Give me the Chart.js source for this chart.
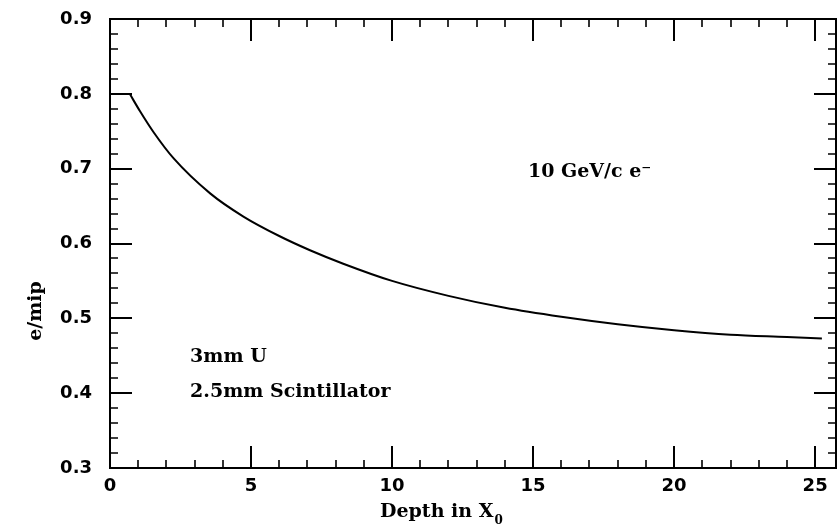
<!DOCTYPE html>
<html>
<head>
<meta charset="utf-8">
<script src="https://cdn.jsdelivr.net/npm/chart.js@4"></script>
<style>
  html, body { margin: 0; padding: 0; background: #fff; }
  #wrap { width: 837px; height: 527px; }
</style>
</head>
<body>
<div id="wrap"><canvas id="myChart" width="837" height="527"></canvas></div>
<script>
// curva: profundidad (X0) y e/mip
const profundidad = [0.7, 1.06, 1.54, 2.25, 3.55, 4.73, 6.0, 7.09, 8.27, 10, 12, 14, 16, 18, 20, 22, 24, 25.24]
const eMip = [0.800, 0.777, 0.749, 0.714, 0.667, 0.636, 0.610, 0.591, 0.573, 0.550, 0.530, 0.514, 0.502, 0.492, 0.484, 0.478, 0.475, 0.473]

// ticks de los ejes
const ticksX = [0, 5, 10, 15, 20, 25]
const ticksY = [0.3, 0.4, 0.5, 0.6, 0.7, 0.8, 0.9]

// textos dentro del grafico (x, y en unidades de datos)
const notas = [
  { texto: "10 GeV/c e\u207B", x: 14.82, y: 0.689 },
  { texto: "3mm U", x: 2.84, y: 0.441 },
  { texto: "2.5mm Scintillator", x: 2.84, y: 0.395 }
]

const tituloX = "Depth in X"
const subX = "0"
const tituloY = "e/mip"

const fuenteTicks = { family: "DejaVu Sans", size: 18, weight: "bold" }
const fuenteTexto = "bold 19px 'DejaVu Serif'"

// dibuja el marco, los ticks hacia adentro, las notas y los titulos
const marcoPlugin = {
  id: "marco",
  afterDraw(chart) {
    const ctx = chart.ctx
    const { left, right, top, bottom } = chart.chartArea
    const sx = chart.scales.x
    const sy = chart.scales.y
    ctx.save()
    ctx.strokeStyle = "#000"
    ctx.lineWidth = 2
    ctx.strokeRect(left, top, right - left, bottom - top)

    // ticks eje x (abajo y arriba)
    for (let v = 0; v <= sx.max; v += 1) {
      const px = Math.round(sx.getPixelForValue(v))
      const largo = v % 5 === 0 ? 22 : 8
      ctx.lineWidth = v % 5 === 0 ? 2 : 1.6
      ctx.beginPath()
      ctx.moveTo(px, bottom); ctx.lineTo(px, bottom - largo)
      ctx.moveTo(px, top); ctx.lineTo(px, top + largo)
      ctx.stroke()
    }
    // ticks eje y (izquierda y derecha)
    for (let i = 0; i <= 30; i++) {
      const v = 0.3 + i * 0.02
      const py = Math.round(sy.getPixelForValue(v))
      const mayor = i % 5 === 0
      const largo = mayor ? 22 : 8
      ctx.lineWidth = mayor ? 2 : 1.6
      ctx.beginPath()
      ctx.moveTo(left, py); ctx.lineTo(left + largo, py)
      ctx.moveTo(right, py); ctx.lineTo(right - largo, py)
      ctx.stroke()
    }

    ctx.fillStyle = "#000"
    ctx.font = fuenteTexto
    ctx.textBaseline = "alphabetic"
    ctx.textAlign = "left"
    notas.forEach(n => {
      ctx.fillText(n.texto, sx.getPixelForValue(n.x), sy.getPixelForValue(n.y))
    })

    // titulo eje x con subindice
    ctx.font = fuenteTexto
    ctx.fillText(tituloX, 380, 517)
    const w = ctx.measureText(tituloX).width
    ctx.font = "bold 12px 'DejaVu Serif'"
    ctx.fillText(subX, 380 + w + 1, 524)

    // titulo eje y
    ctx.translate(41, 311)
    ctx.rotate(-Math.PI / 2)
    ctx.font = "bold 19px 'DejaVu Serif'"
    ctx.textAlign = "center"
    ctx.fillText(tituloY, 0, 0)
    ctx.restore()
  }
}

function crearDatos() {
  const data = profundidad.map((x, i) => ({ x, y: eMip[i] }))
  return {
    datasets: [{
      data,
      borderColor: "#000",
      borderWidth: 2,
      pointRadius: 0,
      cubicInterpolationMode: "monotone",
      fill: false
    }]
  }
}

const config = {
  type: "line",
  data: crearDatos(),
  plugins: [marcoPlugin],
  options: {
    responsive: false,
    animation: false,
    layout: { padding: { top: 19, right: 1, left: 0, bottom: 0 } },
    plugins: { legend: { display: false }, tooltip: { enabled: false } },
    scales: {
      x: {
        type: "linear",
        min: 0,
        max: 25.74,
        afterFit(scale) {
          scale.height = 59
          scale.paddingLeft = 0
          scale.paddingRight = 0
        },
        afterBuildTicks(scale) { scale.ticks = ticksX.map(value => ({ value })) },
        grid: { display: false, drawTicks: false },
        border: { display: false },
        ticks: { color: "#000", font: fuenteTicks, padding: 8, maxRotation: 0 }
      },
      y: {
        min: 0.3,
        max: 0.9,
        afterFit(scale) {
          scale.width = 110
          scale.paddingTop = 0
          scale.paddingBottom = 0
        },
        afterBuildTicks(scale) { scale.ticks = ticksY.map(value => ({ value })) },
        grid: { display: false, drawTicks: false },
        border: { display: false },
        ticks: {
          color: "#000",
          font: fuenteTicks,
          padding: 18,
          callback: v => Number(v).toFixed(1)
        }
      }
    }
  }
}

const myChart = new Chart(document.querySelector("#myChart"), config)
</script>
</body>
</html>
